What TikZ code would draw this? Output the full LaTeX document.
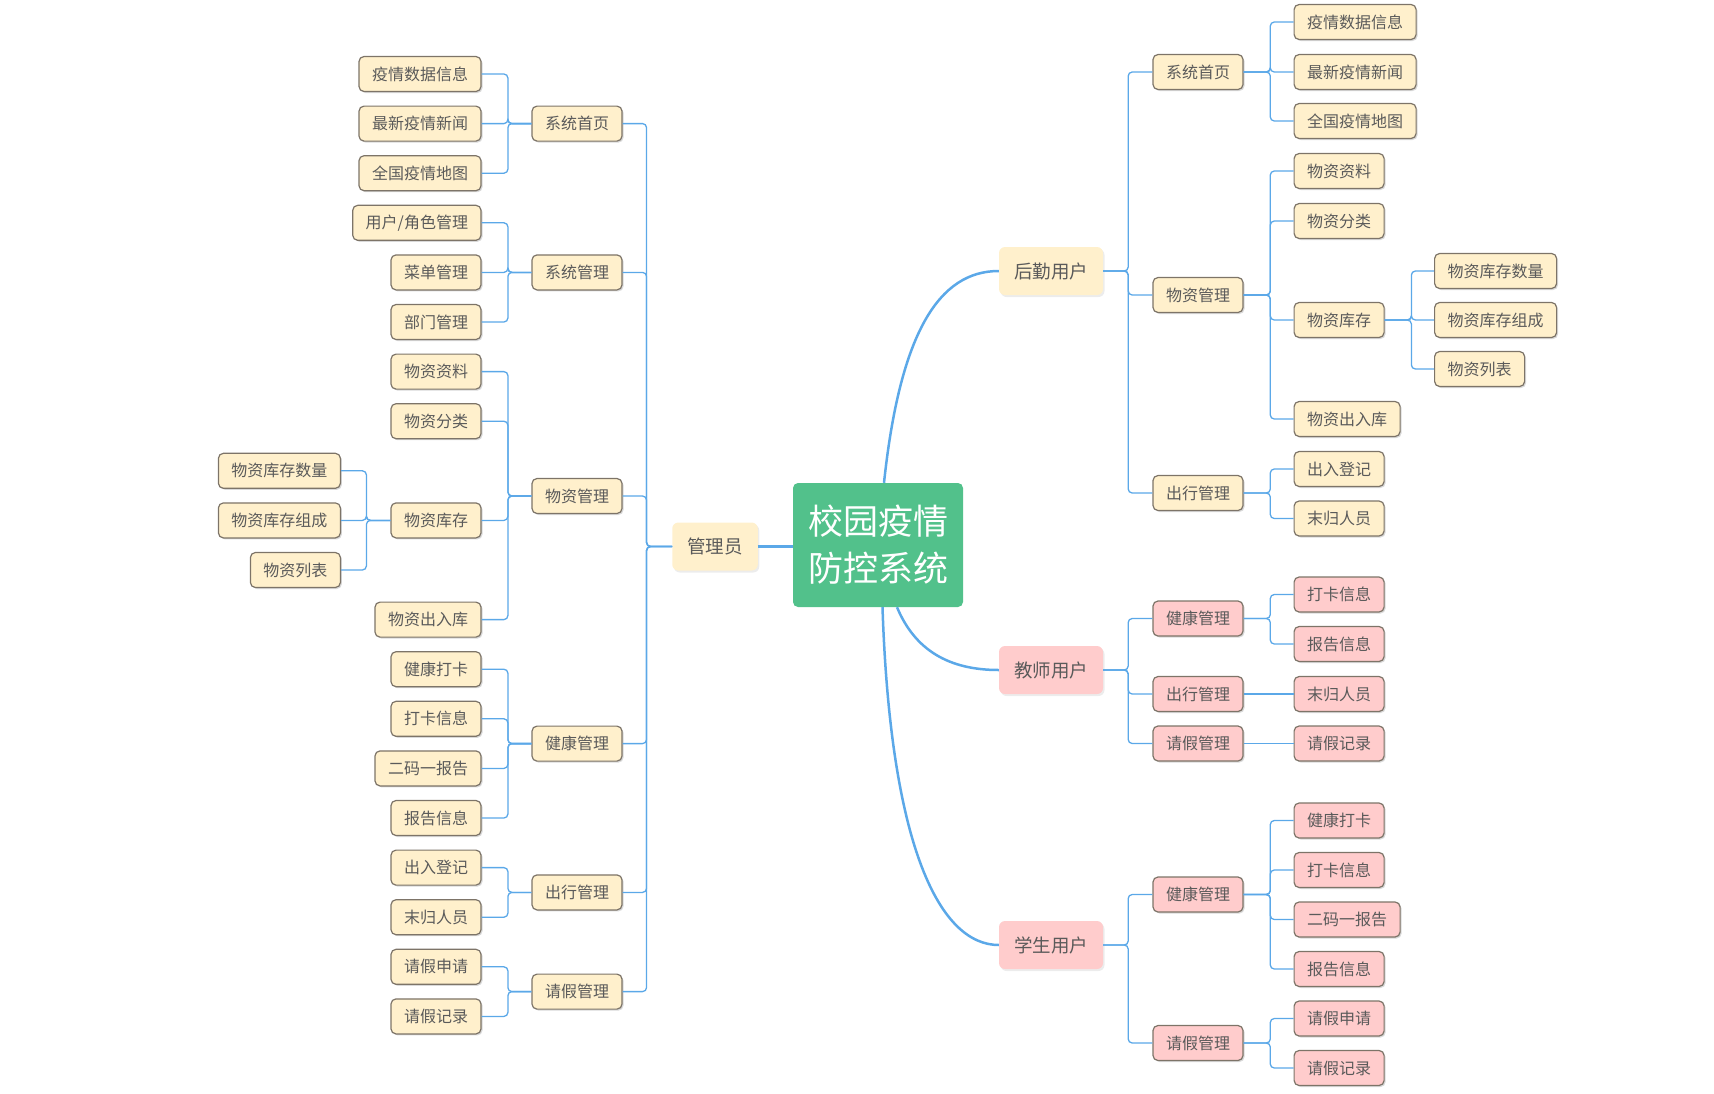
\documentclass[tikz,border=0pt]{standalone}
\usepackage{fontspec}
\setmainfont{Noto Sans CJK SC}
\usetikzlibrary{shadows}
\definecolor{rootgreen}{HTML}{52C18B}
\definecolor{creamfill}{HTML}{FFF0CC}
\definecolor{pinkfill}{HTML}{FFCCCC}
\definecolor{boxline}{HTML}{7D7468}
\definecolor{linkblue}{HTML}{5BA8E8}
\definecolor{labelgray}{HTML}{5A5A5A}
\tikzset{
	rootbox/.style={fill=rootgreen, rounded corners=5pt, text=white, minimum width=170pt, minimum height=124pt, align=center, font=\fontsize{35}{47}\selectfont},
	rolebox/.style={fill=#1, rounded corners=6pt, text=labelgray, minimum height=48pt, inner xsep=15pt, font=\fontsize{18.5}{20}\selectfont, drop shadow={shadow xshift=1.5pt, shadow yshift=-2pt, opacity=0.15}},
	rolebox/.default=creamfill,
	itembox/.style={draw=boxline, line width=1.2pt, fill=#1, rounded corners=5pt, text=labelgray, minimum height=35pt, inner xsep=13pt, inner ysep=0pt, font=\fontsize{16}{18}\selectfont, drop shadow={shadow xshift=1.5pt, shadow yshift=-1.5pt, opacity=0.3}},
	itembox/.default=creamfill,
	link/.style={draw=linkblue, line width=1.3pt, rounded corners=4pt},
	stem/.style={draw=linkblue, line width=2.5pt},
}
\begin{document}
\begin{tikzpicture}[x=1pt, y=-1pt]
	\useasboundingbox (0,0) rectangle (1714,1093);

	\node[rootbox] (root) at (878,545) {校园疫情\\防控系统};

	% admin side
	\node[rolebox] (admin) at (715,546.5) {管理员};
	\node[itembox] (aHome) at (577,123.6) {系统首页};
	\node[itembox] (aSys) at (577,272.4) {系统管理};
	\node[itembox] (aMat) at (577,496) {物资管理};
	\node[itembox] (aHealth) at (577,743.6) {健康管理};
	\node[itembox] (aTrip) at (577,892.4) {出行管理};
	\node[itembox] (aLeave) at (577,991.6) {请假管理};

	\node[itembox, anchor=east] (aHome1) at (481.6,74) {疫情数据信息};
	\node[itembox, anchor=east] (aHome2) at (481.6,123.6) {最新疫情新闻};
	\node[itembox, anchor=east] (aHome3) at (481.6,173.2) {全国疫情地图};
	\node[itembox, anchor=east] (aSys1) at (481.6,222.8) {用户/角色管理};
	\node[itembox, anchor=east] (aSys2) at (481.6,272.4) {菜单管理};
	\node[itembox, anchor=east] (aSys3) at (481.6,322) {部门管理};
	\node[itembox, anchor=east] (aMat1) at (481.6,371.6) {物资资料};
	\node[itembox, anchor=east] (aMat2) at (481.6,421.2) {物资分类};
	\node[itembox, anchor=east] (aMat3) at (481.6,520.4) {物资库存};
	\node[itembox, anchor=east] (aMat4) at (481.6,619.6) {物资出入库};
	\node[itembox, anchor=east] (aStock1) at (341,470.8) {物资库存数量};
	\node[itembox, anchor=east] (aStock2) at (341,520.4) {物资库存组成};
	\node[itembox, anchor=east] (aStock3) at (341,570) {物资列表};
	\node[itembox, anchor=east] (aHealth1) at (481.6,669.2) {健康打卡};
	\node[itembox, anchor=east] (aHealth2) at (481.6,718.8) {打卡信息};
	\node[itembox, anchor=east] (aHealth3) at (481.6,768.4) {二码一报告};
	\node[itembox, anchor=east] (aHealth4) at (481.6,818) {报告信息};
	\node[itembox, anchor=east] (aTrip1) at (481.6,867.6) {出入登记};
	\node[itembox, anchor=east] (aTrip2) at (481.6,917.2) {末归人员};
	\node[itembox, anchor=east] (aLeave1) at (481.6,966.8) {请假申请};
	\node[itembox, anchor=east] (aLeave2) at (481.6,1016.4) {请假记录};

	% logistics side
	\node[rolebox] (lUser) at (1051,271) {后勤用户};
	\node[itembox] (lHome) at (1198,72) {系统首页};
	\node[itembox] (lMat) at (1198,295) {物资管理};
	\node[itembox] (lTrip) at (1198,493) {出行管理};
	\node[itembox, anchor=west] (lHome1) at (1293.5,22) {疫情数据信息};
	\node[itembox, anchor=west] (lHome2) at (1293.5,72) {最新疫情新闻};
	\node[itembox, anchor=west] (lHome3) at (1293.5,121) {全国疫情地图};
	\node[itembox, anchor=west] (lMat1) at (1293.5,171) {物资资料};
	\node[itembox, anchor=west] (lMat2) at (1293.5,221) {物资分类};
	\node[itembox, anchor=west] (lMat3) at (1293.5,320) {物资库存};
	\node[itembox, anchor=west] (lMat4) at (1293.5,419) {物资出入库};
	\node[itembox, anchor=west] (lStock1) at (1434,271) {物资库存数量};
	\node[itembox, anchor=west] (lStock2) at (1434,320) {物资库存组成};
	\node[itembox, anchor=west] (lStock3) at (1434,369) {物资列表};
	\node[itembox, anchor=west] (lTrip1) at (1293.5,469) {出入登记};
	\node[itembox, anchor=west] (lTrip2) at (1293.5,518.5) {末归人员};

	% teacher side
	\node[rolebox=pinkfill] (tUser) at (1051,670) {教师用户};
	\node[itembox=pinkfill] (tHealth) at (1198,618.5) {健康管理};
	\node[itembox=pinkfill] (tTrip) at (1198,694) {出行管理};
	\node[itembox=pinkfill] (tLeave) at (1198,743.5) {请假管理};
	\node[itembox=pinkfill, anchor=west] (tHealth1) at (1293.5,594.5) {打卡信息};
	\node[itembox=pinkfill, anchor=west] (tHealth2) at (1293.5,644) {报告信息};
	\node[itembox=pinkfill, anchor=west] (tTrip1) at (1293.5,694) {末归人员};
	\node[itembox=pinkfill, anchor=west] (tLeave1) at (1293.5,743.5) {请假记录};

	% student side
	\node[rolebox=pinkfill] (sUser) at (1051,945) {学生用户};
	\node[itembox=pinkfill] (sHealth) at (1198,894.5) {健康管理};
	\node[itembox=pinkfill] (sLeave) at (1198,1043) {请假管理};
	\node[itembox=pinkfill, anchor=west] (sHealth1) at (1293.5,820.5) {健康打卡};
	\node[itembox=pinkfill, anchor=west] (sHealth2) at (1293.5,870) {打卡信息};
	\node[itembox=pinkfill, anchor=west] (sHealth3) at (1293.5,919.5) {二码一报告};
	\node[itembox=pinkfill, anchor=west] (sHealth4) at (1293.5,969) {报告信息};
	\node[itembox=pinkfill, anchor=west] (sLeave1) at (1293.5,1018.5) {请假申请};
	\node[itembox=pinkfill, anchor=west] (sLeave2) at (1293.5,1068) {请假记录};

	% root to roles
	\draw[stem] (admin.east) -- (root.west |- admin.east);
	\draw[stem] ([xshift=6pt]root.north) .. controls +(16,-150) and +(-60,0) .. (lUser.west);
	\draw[stem] ([xshift=19pt]root.south) .. controls +(18,43) and +(-50,0) .. (tUser.west);
	\draw[stem] ([xshift=4.5pt]root.south) .. controls +(8,243) and +(-58,0) .. (sUser.west);

	% admin links
	\draw[link] (admin.west) -- ++(-25.5,0) |- (aHome.east);
	\draw[link] (admin.west) -- ++(-25.5,0) |- (aSys.east);
	\draw[link] (admin.west) -- ++(-25.5,0) |- (aMat.east);
	\draw[link] (admin.west) -- ++(-25.5,0) |- (aHealth.east);
	\draw[link] (admin.west) -- ++(-25.5,0) |- (aTrip.east);
	\draw[link] (admin.west) -- ++(-25.5,0) |- (aLeave.east);
	\draw[link] (aHome.west) -- ++(-23.5,0) |- (aHome1.east);
	\draw[link] (aHome.west) -- ++(-23.5,0) |- (aHome2.east);
	\draw[link] (aHome.west) -- ++(-23.5,0) |- (aHome3.east);
	\draw[link] (aSys.west) -- ++(-23.5,0) |- (aSys1.east);
	\draw[link] (aSys.west) -- ++(-23.5,0) |- (aSys2.east);
	\draw[link] (aSys.west) -- ++(-23.5,0) |- (aSys3.east);
	\draw[link] (aMat.west) -- ++(-23.5,0) |- (aMat1.east);
	\draw[link] (aMat.west) -- ++(-23.5,0) |- (aMat2.east);
	\draw[link] (aMat.west) -- ++(-23.5,0) |- (aMat3.east);
	\draw[link] (aMat.west) -- ++(-23.5,0) |- (aMat4.east);
	\draw[link] (aMat3.west) -- ++(-24,0) |- (aStock1.east);
	\draw[link] (aMat3.west) -- ++(-24,0) |- (aStock2.east);
	\draw[link] (aMat3.west) -- ++(-24,0) |- (aStock3.east);
	\draw[link] (aHealth.west) -- ++(-23.5,0) |- (aHealth1.east);
	\draw[link] (aHealth.west) -- ++(-23.5,0) |- (aHealth2.east);
	\draw[link] (aHealth.west) -- ++(-23.5,0) |- (aHealth3.east);
	\draw[link] (aHealth.west) -- ++(-23.5,0) |- (aHealth4.east);
	\draw[link] (aTrip.west) -- ++(-23.5,0) |- (aTrip1.east);
	\draw[link] (aTrip.west) -- ++(-23.5,0) |- (aTrip2.east);
	\draw[link] (aLeave.west) -- ++(-23.5,0) |- (aLeave1.east);
	\draw[link] (aLeave.west) -- ++(-23.5,0) |- (aLeave2.east);

	% logistics links
	\draw[link] (lUser.east) -- ++(25,0) |- (lHome.west);
	\draw[link] (lUser.east) -- ++(25,0) |- (lMat.west);
	\draw[link] (lUser.east) -- ++(25,0) |- (lTrip.west);
	\draw[link] (lHome.east) -- ++(26.7,0) |- (lHome1.west);
	\draw[link] (lHome.east) -- ++(26.7,0) |- (lHome2.west);
	\draw[link] (lHome.east) -- ++(26.7,0) |- (lHome3.west);
	\draw[link] (lMat.east) -- ++(26.7,0) |- (lMat1.west);
	\draw[link] (lMat.east) -- ++(26.7,0) |- (lMat2.west);
	\draw[link] (lMat.east) -- ++(26.7,0) |- (lMat3.west);
	\draw[link] (lMat.east) -- ++(26.7,0) |- (lMat4.west);
	\draw[link] (lMat3.east) -- ++(26.7,0) |- (lStock1.west);
	\draw[link] (lMat3.east) -- ++(26.7,0) |- (lStock2.west);
	\draw[link] (lMat3.east) -- ++(26.7,0) |- (lStock3.west);
	\draw[link] (lTrip.east) -- ++(26.7,0) |- (lTrip1.west);
	\draw[link] (lTrip.east) -- ++(26.7,0) |- (lTrip2.west);

	% teacher links
	\draw[link] (tUser.east) -- ++(25,0) |- (tHealth.west);
	\draw[link] (tUser.east) -- ++(25,0) |- (tTrip.west);
	\draw[link] (tUser.east) -- ++(25,0) |- (tLeave.west);
	\draw[link] (tHealth.east) -- ++(26.7,0) |- (tHealth1.west);
	\draw[link] (tHealth.east) -- ++(26.7,0) |- (tHealth2.west);
	\draw[link] (tTrip.east) -- (tTrip1.west);
	\draw[link] (tLeave.east) -- (tLeave1.west);

	% student links
	\draw[link] (sUser.east) -- ++(25,0) |- (sHealth.west);
	\draw[link] (sUser.east) -- ++(25,0) |- (sLeave.west);
	\draw[link] (sHealth.east) -- ++(26.7,0) |- (sHealth1.west);
	\draw[link] (sHealth.east) -- ++(26.7,0) |- (sHealth2.west);
	\draw[link] (sHealth.east) -- ++(26.7,0) |- (sHealth3.west);
	\draw[link] (sHealth.east) -- ++(26.7,0) |- (sHealth4.west);
	\draw[link] (sLeave.east) -- ++(26.7,0) |- (sLeave1.west);
	\draw[link] (sLeave.east) -- ++(26.7,0) |- (sLeave2.west);
\end{tikzpicture}
\end{document}
